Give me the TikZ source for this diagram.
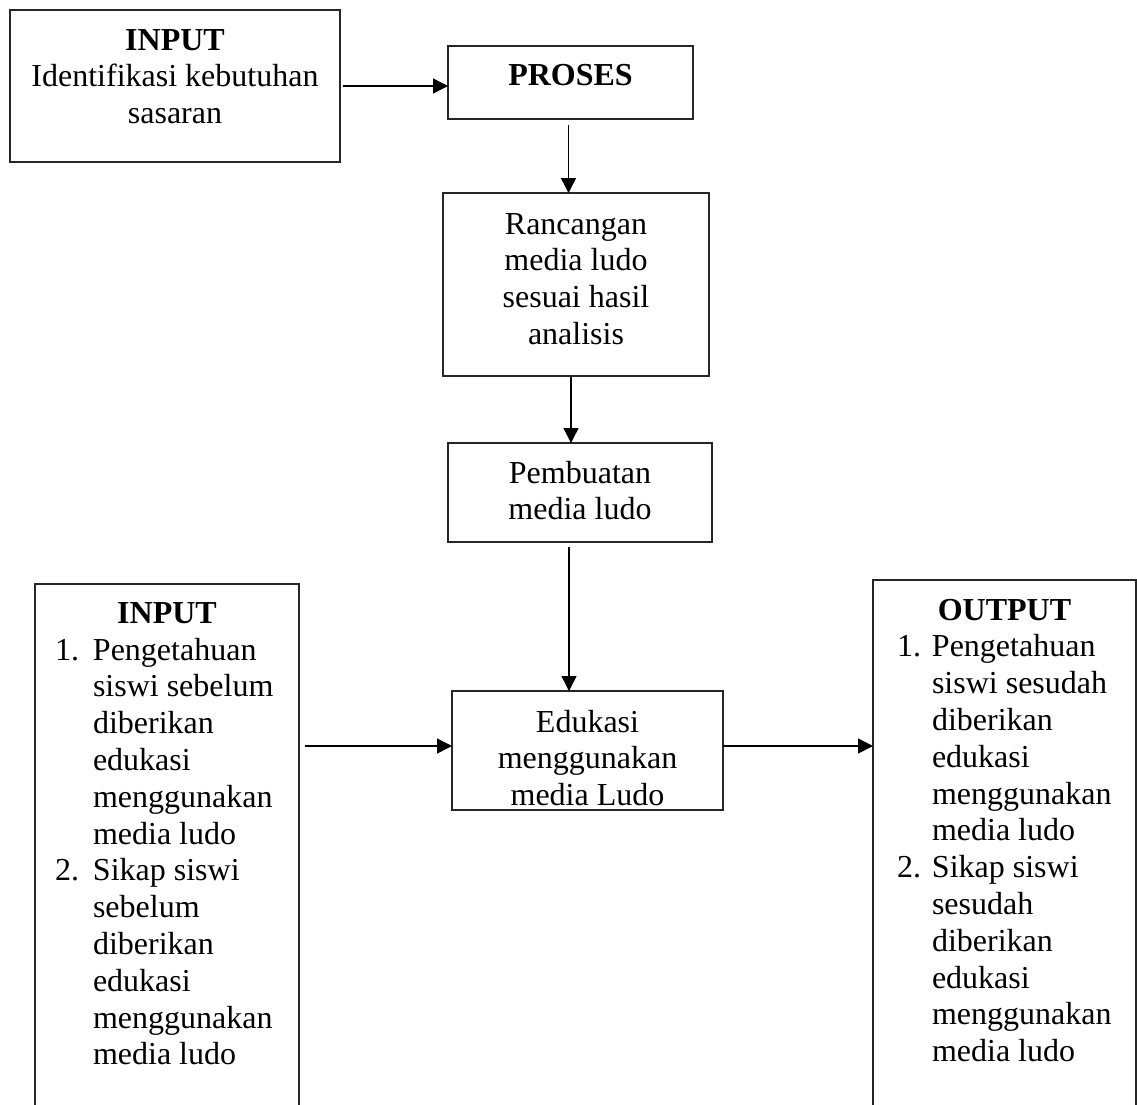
\documentclass[tikz,border=0pt]{standalone}
\usepackage{fontspec}
\setmainfont{Liberation Serif}
\usetikzlibrary{arrows.meta,calc}
\begin{document}
\begin{tikzpicture}[x=1pt,y=-1pt,
  box/.style={draw=black!85, line width=1.5pt, inner sep=0pt, outer sep=0pt, anchor=north west},
  txt/.style={inner sep=0pt, outer sep=0pt, font=\fontsize{32}{36.8}\selectfont},
  arr/.style={line width=1.4pt, -{Triangle[length=15pt,width=15pt]}}]
\useasboundingbox (0,0) rectangle (1137,1104);
\fill[white] (0,0) rectangle (1137,1104);

% boxes
\node[box, minimum width=330pt, minimum height=152pt] (a) at (10,10) {};
\node[box, minimum width=245pt, minimum height=73pt] (b) at (448,46) {};
\node[box, minimum width=266pt, minimum height=183pt] (c) at (443,193) {};
\node[box, minimum width=264pt, minimum height=99pt] (d) at (448,443) {};
\node[box, minimum width=271pt, minimum height=119pt] (e) at (452,691) {};
\node[box, minimum width=264pt, minimum height=560pt] (f) at (35,584) {};
\node[box, minimum width=263pt, minimum height=560pt] (g) at (873,580) {};

% texts
\node[txt, anchor=base] (at) at (175,50) {\parbox[t]{320pt}{\centering\textbf{INPUT}\\Identifikasi kebutuhan\\sasaran}};
\node[txt, anchor=base] (bt) at (570.5,85) {\textbf{PROSES}};
\node[txt, anchor=base] (ct) at (576,234) {\parbox[t]{250pt}{\centering Rancangan\\media ludo\\sesuai hasil\\analisis}};
\node[txt, anchor=base] (dt) at (580,483) {\parbox[t]{250pt}{\centering Pembuatan\\media ludo}};
\node[txt, anchor=base] (et) at (587.5,732) {\parbox[t]{260pt}{\centering Edukasi\\menggunakan\\media Ludo}};

\node[txt, anchor=base] (fh) at (167,623) {\textbf{INPUT}};
\node[txt, anchor=base west] (fl) at (55,660) {\parbox[t]{240pt}{\raggedright
\makebox[38pt][l]{1.}Pengetahuan\\
\hspace*{38pt}siswi sebelum\\
\hspace*{38pt}diberikan\\
\hspace*{38pt}edukasi\\
\hspace*{38pt}menggunakan\\
\hspace*{38pt}media ludo\\
\makebox[38pt][l]{2.}Sikap siswi\\
\hspace*{38pt}sebelum\\
\hspace*{38pt}diberikan\\
\hspace*{38pt}edukasi\\
\hspace*{38pt}menggunakan\\
\hspace*{38pt}media ludo}};

\node[txt, anchor=base] (gh) at (1004.5,620) {\textbf{OUTPUT}};
\node[txt, anchor=base west] (gl) at (897,656.8) {\parbox[t]{235pt}{\raggedright
\makebox[35pt][l]{1.}Pengetahuan\\
\hspace*{35pt}siswi sesudah\\
\hspace*{35pt}diberikan\\
\hspace*{35pt}edukasi\\
\hspace*{35pt}menggunakan\\
\hspace*{35pt}media ludo\\
\makebox[35pt][l]{2.}Sikap siswi\\
\hspace*{35pt}sesudah\\
\hspace*{35pt}diberikan\\
\hspace*{35pt}edukasi\\
\hspace*{35pt}menggunakan\\
\hspace*{35pt}media ludo}};

% connectors
\coordinate (ab) at ([xshift=3pt]a.east);
\draw[arr] (ab) -- (b.west |- ab);
\coordinate (bc) at ([xshift=-2pt,yshift=-6pt]b.south);
\draw[arr] (bc) -- (bc |- c.north);
\coordinate (cd) at ([xshift=-5pt,yshift=-1pt]c.south);
\draw[arr] (cd) -- (cd |- d.north);
\coordinate (de) at ([xshift=-11pt,yshift=-5pt]d.south);
\draw[arr] (de) -- (de |- e.north);
\coordinate (fe) at ([xshift=6pt]f.north east |- 0,746);
\draw[arr] (fe) -- (e.west |- fe);
\coordinate (eg) at (e.east |- 0,746);
\draw[arr] (eg) -- (g.west |- eg);
\end{tikzpicture}
\end{document}
